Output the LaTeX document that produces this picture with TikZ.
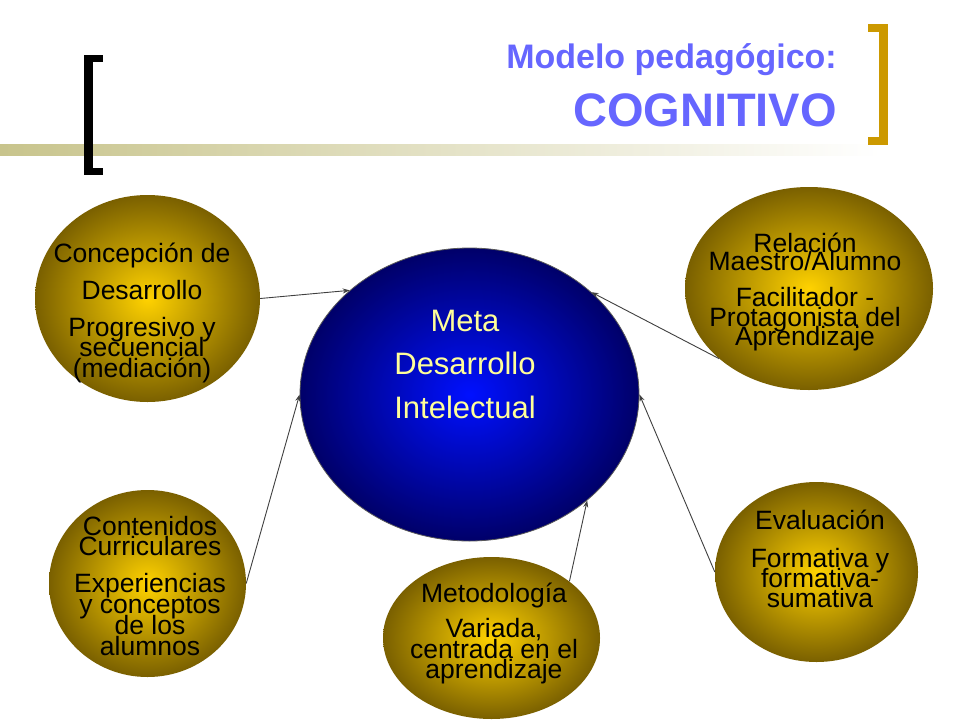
\documentclass[tikz,border=0pt]{standalone}
\usepackage{fontspec}
\setmainfont{Liberation Sans}
\usetikzlibrary{shapes.geometric,arrows.meta}
\definecolor{titleblue}{RGB}{102,102,255}
\definecolor{goldbr}{RGB}{204,153,0}
\definecolor{bandc}{RGB}{200,196,140}
\definecolor{goldin}{RGB}{255,210,0}
\definecolor{goldout}{RGB}{122,96,0}
\definecolor{bluein}{RGB}{0,16,255}
\definecolor{blueout}{RGB}{0,0,105}
\definecolor{paleyel}{RGB}{255,255,153}
\definecolor{arrowc}{RGB}{64,64,64}
\begin{document}
\begin{tikzpicture}[x=1pt,y=-1pt,
  goldball/.style={ellipse, inner sep=0pt, shade, inner color=goldin, outer color=goldout},
  ctext/.style={anchor=base, inner sep=0pt, font=\fontsize{26.5}{30}\selectfont},
  mtext/.style={anchor=base, inner sep=0pt, text=paleyel, font=\fontsize{31}{36}\selectfont},
  titletext/.style={anchor=base east, inner sep=0pt, text=titleblue},
  link/.style={draw=arrowc, line width=0.9pt, -{Stealth[length=7pt,width=5pt]}},
]
\useasboundingbox (0,0) rectangle (960,720);
\fill[white] (0,0) rectangle (960,720);
% header band
\shade[left color=bandc, right color=white] (0,144) rectangle (880,155);
% black bracket
\fill[black] (84,55) rectangle (93,175);
\fill[black] (84,55) rectangle (103,62);
\fill[black] (84,168) rectangle (103,175);
% gold bracket
\fill[goldbr] (879,24) rectangle (888,145);
\fill[goldbr] (868,24) rectangle (888,32);
\fill[goldbr] (868,137) rectangle (888,145);
% title
\node[titletext, font=\bfseries\fontsize{34}{40}\selectfont] (t1) at (837,68) {Modelo pedagógico:};
\node[titletext, font=\bfseries\fontsize{47}{56}\selectfont] (t2) at (837,126) {COGNITIVO};
% central ellipse
\node[ellipse, inner sep=0pt, minimum width=339pt, minimum height=293pt, shade,
      inner color=bluein, outer color=blueout, draw=gray!70!black, line width=0.8pt] (meta) at (469.5,394.5) {};
% satellites
\node[goldball, minimum width=225pt, minimum height=207pt] (tl) at (147.5,298.5) {};
\node[goldball, minimum width=248pt, minimum height=203pt] (tr) at (809,288.5) {};
\node[goldball, minimum width=197pt, minimum height=187pt] (bl) at (147.5,583.5) {};
\node[goldball, minimum width=217pt, minimum height=162pt] (bc) at (491.5,638) {};
\node[goldball, minimum width=203pt, minimum height=180pt] (br) at (816.5,572) {};
% texts
\foreach \yy/\txt [count=\i] in {331/Meta,374/Desarrollo,418/Intelectual}
  \node[mtext] (m\i) at (465,\yy) {\txt};
\foreach \yy/\txt [count=\i] in {262/Concepción de,299/Desarrollo,336/Progresivo y,356/secuencial,377/(mediación)}
  \node[ctext] (tl\i) at (142,\yy) {\txt};
\foreach \yy/\txt [count=\i] in {252/Relación,270/{Maestro/Alumno},306/Facilitador -,326/Protagonista del,345/Aprendizaje}
  \node[ctext] (tr\i) at (805,\yy) {\txt};
\foreach \yy/\txt [count=\i] in {535/Contenidos,555/Curriculares,592/Experiencias,613/y conceptos,634/de los,655/alumnos}
  \node[ctext] (bl\i) at (150,\yy) {\txt};
\foreach \yy/\txt [count=\i] in {602/Metodología,637/{Variada,},658/centrada en el,678/aprendizaje}
  \node[ctext] (bc\i) at (494,\yy) {\txt};
\foreach \yy/\txt [count=\i] in {529/Evaluación,567/Formativa y,587/formativa-,607/sumativa}
  \node[ctext] (br\i) at (820,\yy) {\txt};
% connectors
\draw[link] (tl.east) -- (meta.139.6);
\draw[link] (bl.east) -- (meta.180);
\draw[link] (tr.218.4) -- (meta.40.2);
\draw[link] (br.west) -- (meta.0);
\draw[link] (bc.36.3) -- (meta.318.8);
\end{tikzpicture}
\end{document}
